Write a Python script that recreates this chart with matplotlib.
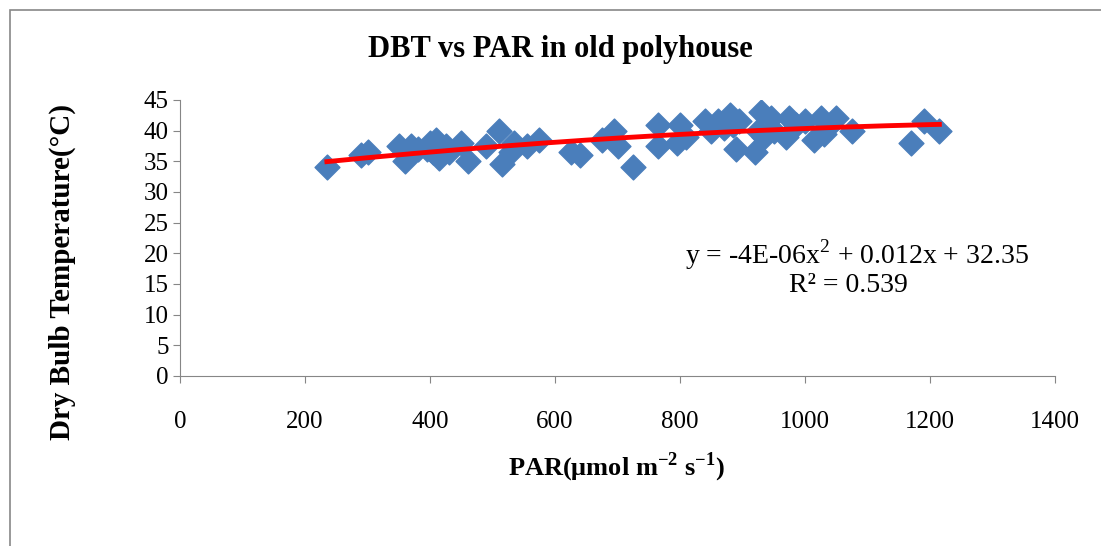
import matplotlib.pyplot as plt
import numpy as np

# PAR (umol m-2 s-1) and dry bulb temperature (C)
par = [235, 290, 300, 350, 360, 365, 370, 380, 395, 400, 405, 410, 415, 425, 430,
       450, 460, 490, 510, 515, 530, 535, 555, 575, 625, 640, 675, 695, 700, 725,
       765, 765, 795, 800, 810, 840, 850, 860, 870, 880, 885, 890, 895, 920, 925,
       930, 935, 945, 950, 970, 975, 985, 1000, 1015, 1025, 1030, 1040, 1050, 1075,
       1170, 1190, 1215]
dbt = [34, 36, 36.5, 37.5, 35, 36, 37.5, 37, 37, 38, 36.5, 38.5, 35.5, 37.5, 36.5,
       38, 35, 37.5, 40, 34.5, 36.5, 38, 37.5, 38.5, 36.5, 36, 38.5, 40, 37.5, 34,
       41, 37.5, 38, 41, 39, 41.5, 40, 41.5, 40.5, 42.5, 41, 37, 41.5, 36.5, 40,
       43, 39, 42, 40, 39, 42, 41, 41.5, 38.5, 42, 39.5, 41, 42, 40,
       38, 41.5, 40]

# polynomial trendline coefficients (as printed on the chart)
coef = [-4e-06, 0.012, 32.35]

plt.rcParams['font.family'] = ['Liberation Serif', 'DejaVu Serif']
plt.rcParams['mathtext.fontset'] = 'custom'
plt.rcParams['mathtext.rm'] = 'Liberation Serif'
plt.rcParams['mathtext.bf'] = 'Liberation Serif:bold'

fig = plt.figure(figsize=(11.01, 5.46), dpi=100)
ax = fig.add_axes([180/1101, 1-376/546, 875/1101, 276/546])

# outer chart border
fig.add_artist(plt.Rectangle((10/1101, -0.1), 1.2, 0.1 + 1 - 10/546,
                             transform=fig.transFigure, fill=False,
                             edgecolor='#888888', linewidth=1.2))

ax.scatter(par, dbt, marker='D', s=160, color='#4A7EBB', zorder=2)
xs = np.linspace(min(par), max(par), 200)
ax.plot(xs, np.polyval(coef, xs), color='#FF0000', linewidth=3.5, zorder=3)

ax.set_xlim(0, 1400)
ax.set_ylim(0, 45)
ax.set_xticks(range(0, 1401, 200))
ax.set_yticks(range(0, 46, 5))
ax.tick_params(axis='x', labelsize=18, pad=20, length=5, direction='out')
ax.tick_params(axis='y', labelsize=18, pad=3, length=5, direction='out')
for s in ['top', 'right']:
    ax.spines[s].set_visible(False)
for s in ['left', 'bottom']:
    ax.spines[s].set_color('#868686')
ax.tick_params(colors='#868686', labelcolor='black')

fig.text(560/1101, 1-50/546, 'DBT vs PAR in old polyhouse', ha='center', va='center',
         fontsize=22, fontweight='bold')
fig.text(62/1101, 1-272/546, 'Dry Bulb Temperature(°C)', ha='center', va='center',
         rotation=90, fontsize=21, fontweight='bold')
fig.text(617/1101, 1-467/546, r'PAR(μmol m$^{\mathbf{-2}}$ s$^{\mathbf{-1}}$)',
         ha='center', va='center', fontsize=19, fontweight='bold')

fig.text(857/1101, 1-255/546, r'y = -4E-06x$^2$ + 0.012x + 32.35',
         ha='center', va='center', fontsize=20)
fig.text(848/1101, 1-285/546, 'R² = 0.539',
         ha='center', va='center', fontsize=20)

fig.savefig('out.png', dpi=100)
